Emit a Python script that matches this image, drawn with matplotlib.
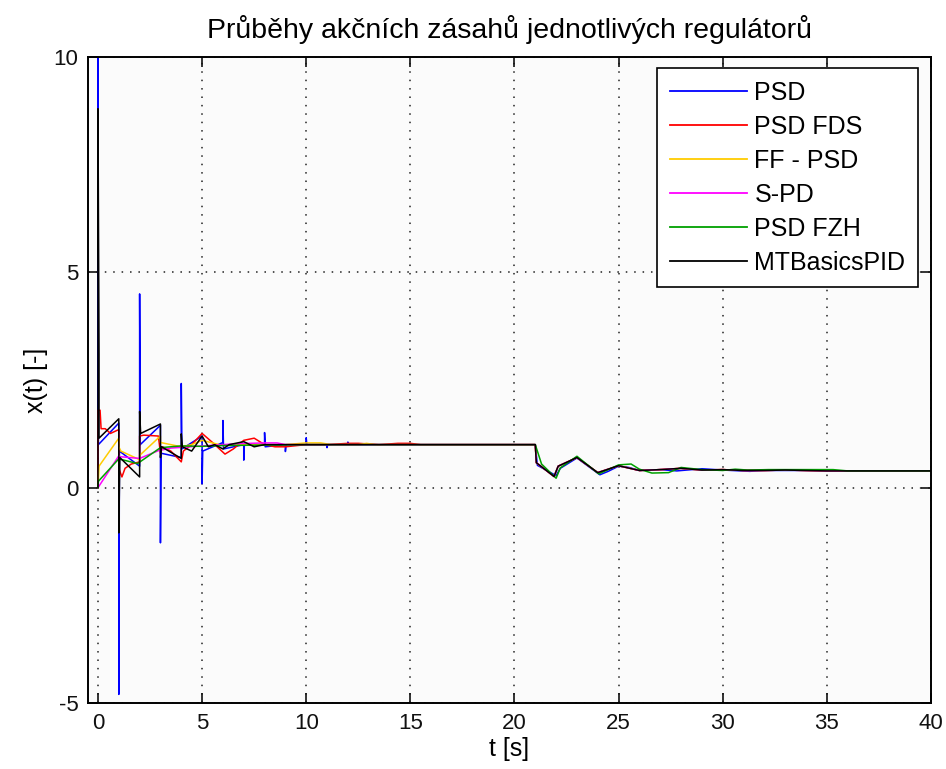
import numpy as np
import matplotlib.pyplot as plt

# time axis [s] and control action x(t) for each regulator
t_psd = [0, 0, 0.02, 1.0, 1.0, 1.03, 2.0, 2.0, 2.03, 3.0, 3.0, 3.03, 4.0, 4.0, 4.03,
         5.0, 5.0, 5.03, 6.0, 6.0, 6.03, 7.0, 7.0, 7.03, 8.0, 8.0, 8.03, 9.0, 9.0, 9.03,
         10.0, 10.0, 10.03, 11.0, 11.0, 11.03, 12.0, 12.0, 12.03, 21.0,
         21.1, 22.0, 22.2, 23.0, 24.1, 24.5, 25.0, 25.5, 26.0, 27.0, 27.8, 29.0,
         30.0, 31.3, 32.0, 34.0, 36.0, 40.0]
x_psd = [0, 15, 1.0, 1.5, -4.8, 0.85, 0.5, 4.5, 1.0, 1.45, -1.28, 0.8, 0.7, 2.42, 0.9,
         1.2, 0.09, 0.85, 1.05, 1.56, 0.9, 1.0, 0.64, 1.0, 1.0, 1.28, 0.95, 1.0, 0.84, 1.0,
         1.0, 1.16, 1.0, 1.0, 0.93, 1.0, 1.0, 1.06, 1.0, 1.0,
         0.52, 0.28, 0.45, 0.69, 0.30, 0.38, 0.50, 0.47, 0.40, 0.42, 0.39, 0.44,
         0.41, 0.38, 0.40, 0.40, 0.39, 0.39]

t_fds = [0, 0, 0.1, 0.15, 0.35, 0.6, 1.0, 1.0, 1.15, 1.3, 1.6, 2.0, 2.0, 2.2, 2.9, 3.0,
         3.1, 3.5, 4.0, 4.1, 4.5, 5.0, 5.5, 6.1, 6.5, 7.0, 7.5, 8.0, 8.5, 9.0, 10.0,
         11.0, 12.0, 12.5, 13.5, 14.4, 15.0, 15.5, 21.0]
x_fds = [0, 1.8, 1.8, 1.37, 1.37, 1.26, 1.35, 0.45, 0.25, 0.45, 0.55, 0.6, 1.2, 1.22, 1.2, 0.8,
         0.95, 0.85, 0.6, 0.85, 1.0, 1.26, 1.05, 0.78, 0.9, 1.1, 1.15, 1.0, 0.95, 0.95, 1.0,
         1.0, 1.03, 1.03, 1.0, 1.03, 1.03, 1.0, 1.0]

t_ff = [0, 0.05, 1.0, 1.0, 1.1, 2.0, 2.0, 3.0, 3.0, 3.5, 4.0, 4.5, 5.0, 6.0, 7.0, 8.0,
        9.0, 10.0, 10.7, 11.2, 12.5, 12.9, 13.3, 21.0]
x_ff = [0, 0.5, 1.15, 0.95, 0.85, 0.65, 0.75, 1.2, 1.05, 1.0, 0.95, 1.0, 1.1, 0.98, 1.0, 1.0,
        1.0, 1.04, 1.04, 1.0, 1.0, 1.03, 1.0, 1.0]

t_spd = [0, 1.0, 1.05, 2.0, 2.9, 3.5, 5.0, 6.0, 7.0, 7.3, 8.0, 8.6, 9.0, 10.0, 21.0]
x_spd = [0, 0.74, 0.72, 0.68, 0.86, 0.92, 0.97, 1.0, 1.03, 1.03, 1.04, 1.04, 1.0, 1.0, 1.0]

t_fzh = [0, 0.02, 1.0, 1.9, 3.0, 4.0, 5.0, 6.0, 8.0, 10.0, 21.0,
         21.3, 22.0, 22.2, 23.0, 24.05, 25.0, 25.6, 26.0, 26.6, 27.4, 28.0, 29.0,
         30.0, 30.6, 31.2, 32.2, 33.0, 34.6, 35.3, 36.0, 40.0]
x_fzh = [0, 0.15, 0.67, 0.56, 0.93, 0.97, 0.96, 0.98, 0.99, 1.0, 1.0,
         0.55, 0.22, 0.46, 0.73, 0.32, 0.53, 0.55, 0.43, 0.34, 0.35, 0.47, 0.42,
         0.40, 0.43, 0.41, 0.42, 0.42, 0.42, 0.42, 0.39, 0.39]

t_mtb = [0, 0, 0.05, 0.05, 1.0, 1.0, 1.05, 2.0, 2.0, 2.05, 3.0, 3.0, 3.05, 4.0, 4.0, 4.05,
         4.5, 5.0, 5.3, 5.6, 6.0, 6.3, 7.0, 7.5, 8.0, 9.0, 10.0, 21.0]
x_mtb = [0, 8.8, 3.1, 1.15, 1.6, -1.05, 0.7, 0.25, 1.77, 1.26, 1.48, 0.7, 0.95, 0.68, 1.25, 0.95,
         0.85, 1.2, 0.95, 1.0, 0.9, 1.0, 1.07, 0.95, 1.0, 1.0, 1.0, 1.0]

# common response after the disturbance at t = 21 s
t_late = [21.05, 21.9, 22.1, 23.0, 24.0, 25.0, 26.0, 27.0, 28.0, 29.0, 30.0, 31.0,
          32.0, 33.0, 34.0, 35.0, 36.0, 40.0]
x_late = [0.58, 0.26, 0.50, 0.70, 0.35, 0.51, 0.40, 0.42, 0.45, 0.41, 0.42, 0.40,
          0.40, 0.41, 0.40, 0.39, 0.39, 0.39]

labels = ["PSD", "PSD FDS", "FF - PSD", "S-PD", "PSD FZH", "MTBasicsPID"]
colors = ["#0000ff", "#ff0000", "#ffcc00", "#ff00ff", "#00a000", "#000000"]

series = [
    (t_psd, x_psd),
    (t_fds + t_late, x_fds + x_late),
    (t_ff + t_late, x_ff + x_late),
    (t_spd + t_late, x_spd + x_late),
    (t_fzh, x_fzh),
    (t_mtb + t_late, x_mtb + x_late),
]

plt.rcParams['font.family'] = ['Liberation Sans', 'DejaVu Sans']
plt.rcParams['axes.unicode_minus'] = False

fig = plt.figure(figsize=(9.46, 7.69), dpi=100)
ax = fig.add_axes([0.093, 0.0858, 0.8911, 0.840])
ax.set_facecolor('#fbfbfb')

for (t, x), lab, col in zip(series, labels, colors):
    ax.plot(t, x, color=col, lw=1.1, label=lab)

ax.set_xlim(-0.48, 40)
ax.set_ylim(-5, 10)
ax.set_xticks(np.arange(0, 41, 5))
ax.set_yticks([-5, 0, 5, 10])
ax.grid(True, color='#222222', linestyle=(0, (1, 4.5)), linewidth=1.1)
ax.tick_params(direction='in', length=7, width=1.2, top=True, right=True,
               labelsize=16, pad=7, colors='#111111')
for sp in ax.spines.values():
    sp.set_linewidth(1.4)

ax.set_title("Průběhy akčních zásahů jednotlivých regulátorů", fontsize=20.5, pad=14)
ax.set_xlabel("t [s]", fontsize=18, labelpad=2)
ax.set_ylabel("x(t) [-]", fontsize=18, labelpad=4)

leg = ax.legend(loc='upper right', bbox_to_anchor=(0.9846, 0.983), borderaxespad=0,
                fontsize=18, fancybox=False, framealpha=1, edgecolor='black',
                handlelength=3.1, handletextpad=0.28, labelspacing=0.4, borderpad=0.5)
leg.get_frame().set_linewidth(1.2)
for line in leg.get_lines():
    line.set_linewidth(1.3)

fig.savefig("out.png", dpi=100)
